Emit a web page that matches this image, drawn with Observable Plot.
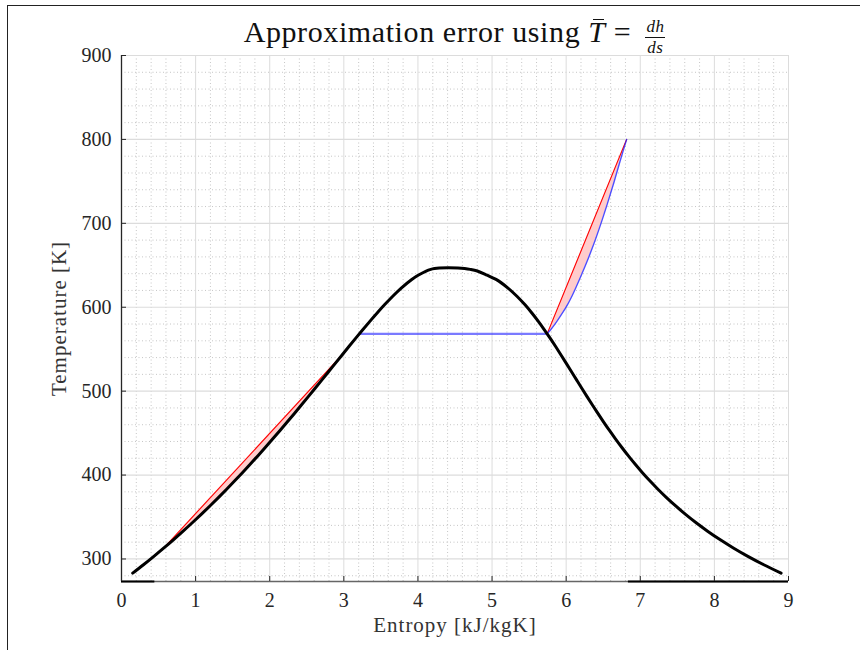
<!DOCTYPE html>
<html>
<head>
<meta charset="utf-8">
<script src="https://cdn.jsdelivr.net/npm/d3@7"></script>
<script src="https://cdn.jsdelivr.net/npm/@observablehq/plot@0.6"></script>
<style>
  html, body { margin: 0; padding: 0; background: #fff; }
  #fig { position: relative; width: 860px; height: 650px; overflow: hidden; font-family: "Liberation Serif", "DejaVu Serif", serif; }
  #border { position: absolute; left: 7px; top: 5px; width: 900px; height: 700px; border-top: 1.5px solid #222; border-left: 1.5px solid #222; }
  #title { position: absolute; left: 101px; width: 707px; top: 14px; height: 40px; text-align: center; font-size: 30px; line-height: 36px; letter-spacing: 0.6px; color: #111; white-space: nowrap; }
  #title i { font-style: italic; }
  .tbar { position: relative; }
  .tbar::before { content: ""; position: absolute; left: 5px; top: 4px; width: 11px; border-top: 1.4px solid #111; }
  .frac { display: inline-block; vertical-align: -11px; text-align: center; font-size: 17px; line-height: 20px; margin-left: 6px; letter-spacing: 0.5px; }
  .frac .num { display: block; border-bottom: 1.1px solid #111; padding: 0 1px 0; }
  .frac .den { display: block; padding-top: 0; }
  #chart { position: absolute; left: 0; top: 50px; }
  #chart .lab text { letter-spacing: 1px; }
</style>
</head>
<body>
<div id="fig">
  <div id="border"></div>
  <div id="title">Approximation error using <i class="tbar">T</i> = <span class="frac"><span class="num"><i>dh</i></span><span class="den"><i>ds</i></span></span></div>
  <div id="chart"></div>
</div>
<script>
// Saturation dome of water: temperature [°C] with liquid / vapour entropy [kJ/kgK]
const liquidTempC = [10, 20, 30, 40, 50, 60, 70, 80, 90, 100, 110, 120, 130, 140, 150, 160, 170, 180, 190, 200,
  210, 220, 230, 240, 250, 260, 270, 280, 290, 300, 310, 320, 330, 340, 350, 360, 365, 370, 372, 373, 373.7, 373.95];
const liquidS = [0.1511, 0.2965, 0.4368, 0.5724, 0.7038, 0.8313, 0.9551, 1.0756, 1.1929, 1.3072, 1.4188, 1.5279,
  1.6346, 1.7392, 1.8418, 1.9426, 2.0417, 2.1392, 2.2355, 2.3305, 2.4245, 2.5177, 2.6101, 2.7020, 2.7935, 2.8849,
  2.9765, 3.0685, 3.1612, 3.2552, 3.3510, 3.4494, 3.5518, 3.6601, 3.7784, 3.9167, 4.0026, 4.1108, 4.173, 4.223, 4.288, 4.407];
const vapourTempC = [373.7, 373, 372, 370, 365, 360, 350, 340, 330, 320, 310, 300, 290, 280, 270, 260, 250, 240,
  230, 220, 210, 200, 190, 180, 170, 160, 150, 140, 130, 120, 110, 100, 90, 80, 70, 60, 50, 40, 30, 20, 10];
const vapourS = [4.540, 4.630, 4.705, 4.8012, 4.9329, 5.0536, 5.2110, 5.3356, 5.4422, 5.5372, 5.6244, 5.7059,
  5.7834, 5.8579, 5.9304, 6.0016, 6.0721, 6.1423, 6.2128, 6.2840, 6.3563, 6.4302, 6.5059, 6.5840, 6.6650, 6.7491,
  6.8371, 6.9293, 7.0264, 7.1291, 7.2381, 7.3541, 7.4781, 7.6111, 7.7540, 7.9082, 8.0749, 8.2557, 8.4520, 8.6661, 8.8998];

// 8 MPa isobar: evaporation at 295.06 °C, then superheated vapour
const boilTempC = 295.06;
const boilS = [3.2068, 5.7432];
const superTempC = [295.06, 300, 310, 320, 330, 340, 350, 375, 400, 425, 450, 475, 500, 526.85];
const superS = [5.7432, 5.7906, 5.8745, 5.9500, 6.0180, 6.0770, 6.1301, 6.2520, 6.3634, 6.4630, 6.5551, 6.6420, 6.7240, 6.8160];

// Straight-line approximations (mean temperature dh/ds) between two states
const liquidChordTempC = [40, 270];
const liquidChordS = [0.5724, 2.9765];
const vapourChordTempC = [295.06, 526.85];
const vapourChordS = [5.7432, 6.8160];

// Low-pressure lines lying on the bottom edge (entropy ranges)
const baseStart = [0, 6.84];
const baseEnd = [0.45, 9];

// Axis ticks
const xTicks = [0, 1, 2, 3, 4, 5, 6, 7, 8, 9];
const yTicks = [300, 400, 500, 600, 700, 800, 900];
const xDomain = [0, 9];
const yDomain = [273.15, 900];

const K = c => c + 273.15;

const dome = [
  ...liquidTempC.map((t, i) => ({s: liquidS[i], T: K(t)})),
  ...vapourTempC.map((t, i) => ({s: vapourS[i], T: K(t)}))
];
const boil = boilS.map(s => ({s, T: K(boilTempC)}));
const superheat = superTempC.map((t, i) => ({s: superS[i], T: K(t)}));
const liquidChord = liquidChordTempC.map((t, i) => ({s: liquidChordS[i], T: K(t)}));
const vapourChord = vapourChordTempC.map((t, i) => ({s: vapourChordS[i], T: K(t)}));
const base = baseStart.map((s, i) => ({s1: s, s2: baseEnd[i]}));

// temperature on the straight chord at entropy s
function chordAt(chord, s) {
  const [a, b] = chord;
  return a.T + (s - a.s) * (b.T - a.T) / (b.s - a.s);
}

const liquidGap = dome
  .filter(d => d.s >= liquidChord[0].s && d.s <= liquidChord[1].s && d.T <= liquidChord[1].T + 0.01)
  .map(d => ({s: d.s, T: d.T, c: chordAt(liquidChord, d.s)}));
const vapourGap = superheat.map(d => ({s: d.s, T: d.T, c: chordAt(vapourChord, d.s)}));

const minorX = d3.range(0, 9.0001, 0.2).filter(v => Math.abs(v - Math.round(v)) > 1e-6);
const minorY = d3.range(280, 900.0001, 20).filter(v => v % 100 !== 0);

const axisColor = "#262626";
const font = "Liberation Serif, DejaVu Serif, serif";

const chart = Plot.plot({
  width: 860,
  height: 600,
  marginLeft: 121,
  marginRight: 72,
  marginTop: 5,
  marginBottom: 69,
  style: {fontFamily: font, fontSize: "20px", color: axisColor, background: "transparent", overflow: "visible"},
  x: {domain: xDomain},
  y: {domain: yDomain},
  marks: [
    // minor dotted grid
    Plot.ruleX(minorX, {stroke: "#b8b8b8", strokeWidth: 0.8, strokeDasharray: "1,2.5"}),
    Plot.ruleY(minorY, {stroke: "#b8b8b8", strokeWidth: 0.8, strokeDasharray: "1,2.5"}),
    // major grid
    Plot.ruleX(xTicks, {stroke: "#dcdcdc", strokeWidth: 1}),
    Plot.ruleY(yTicks, {stroke: "#dcdcdc", strokeWidth: 1.2}),
    // error areas between the chords and the real curves
    Plot.areaY(liquidGap, {x: "s", y1: "T", y2: "c", fill: "#ffcccc", curve: "catmull-rom"}),
    Plot.areaY(vapourGap, {x: "s", y1: "T", y2: "c", fill: "#ffcccc", curve: "catmull-rom"}),
    Plot.line(liquidChord, {x: "s", y: "T", stroke: "#ff0000", strokeWidth: 1.1}),
    Plot.line(vapourChord, {x: "s", y: "T", stroke: "#ff0000", strokeWidth: 1.1}),
    // 8 MPa isobar
    Plot.line(boil, {x: "s", y: "T", stroke: "#3333ff", strokeOpacity: 0.65, strokeWidth: 2.2}),
    Plot.line(superheat, {x: "s", y: "T", stroke: "#2222ff", strokeOpacity: 0.8, strokeWidth: 1.4, curve: "catmull-rom"}),
    // saturation dome
    Plot.line(dome, {x: "s", y: "T", stroke: "#000", strokeWidth: 3, curve: "catmull-rom"}),
    // axes
    Plot.ruleX([0], {stroke: axisColor, strokeWidth: 1.3}),
    Plot.ruleY([yDomain[0]], {stroke: "#666", strokeWidth: 1.3}),
    Plot.ruleY(base, {x1: "s1", x2: "s2", y: () => yDomain[0], stroke: "#000", strokeWidth: 1.8}),
    Plot.axisX({ticks: xTicks, tickSize: -5, tickPadding: 16, stroke: axisColor, fill: axisColor, label: null, tickFormat: d => String(d)}),
    Plot.axisY({ticks: yTicks, tickSize: -5, tickPadding: 15, stroke: axisColor, fill: axisColor, label: null, tickFormat: d => String(d)}),
    Plot.text(["Entropy [kJ/kgK]"], {frameAnchor: "bottom", dy: 50, text: d => d, fontSize: 21, fill: "#333", className: "lab"}),
    Plot.text(["Temperature [K]"], {frameAnchor: "left", textAnchor: "middle", dx: -62, rotate: -90, text: d => d, fontSize: 21, fill: "#333", className: "lab"})
  ]
});

document.getElementById("chart").appendChild(chart);
</script>
</body>
</html>
